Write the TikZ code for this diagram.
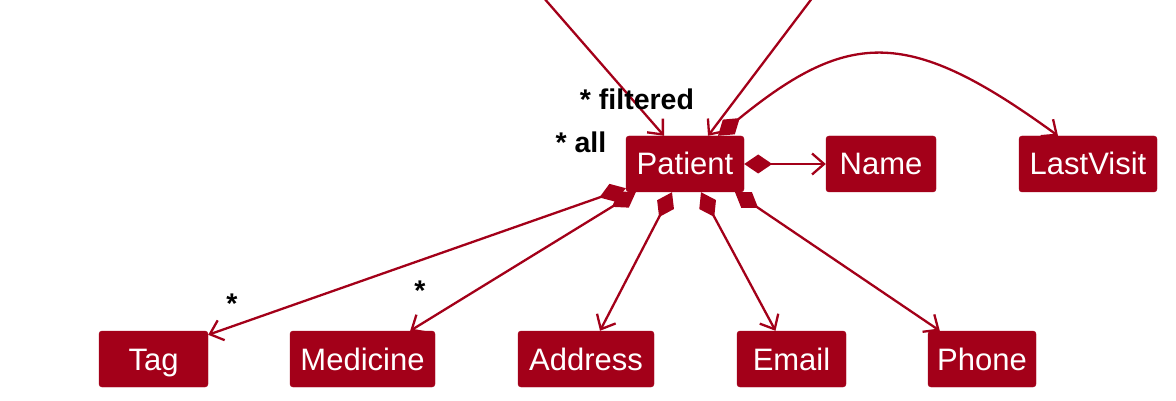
\documentclass[tikz,border=0pt]{standalone}
\usepackage{fontspec}
\setmainfont{Liberation Sans}
\usetikzlibrary{arrows.meta,calc}
\definecolor{puml}{RGB}{163,0,25}
\begin{document}
\begin{tikzpicture}[x=1pt,y=-1pt,
  cls/.style={draw=puml,fill=puml,text=white,rounded corners=3pt,inner sep=0pt,
    minimum height=56pt,text height=28pt,text depth=6pt,font=\fontsize{31}{36}\selectfont},
  lbl/.style={text=black,inner sep=0pt,font=\bfseries\fontsize{28.5}{32}\selectfont},
  assoc/.style={draw=puml,line width=2.3pt,-{Straight Barb[length=12pt,width=21pt,line width=2.3pt]}},
  comp/.style={draw=puml,line width=2.3pt,{Diamond[length=28pt,width=19pt,fill=puml]}-{Straight Barb[length=12pt,width=21pt,line width=2.3pt]}}
]
\useasboundingbox (0,0) rectangle (1176,401);
\begin{scope}
\clip (0,0) rectangle (1176,401);
\node[cls,minimum width=118pt] (patient) at (685,164) {Patient};
\node[cls,minimum width=110pt] (name) at (881,164) {Name};
\node[cls,minimum width=138pt] (last) at (1088,164) {LastVisit};
\node[cls,minimum width=109pt] (tag) at (153.5,359) {Tag};
\node[cls,minimum width=145pt] (med) at (362.5,359) {Medicine};
\node[cls,minimum width=136pt] (addr) at (586,359) {Address};
\node[cls,minimum width=109pt] (email) at (791.5,359) {Email};
\node[cls,minimum width=108pt] (phone) at (982,359) {Phone};

\coordinate (srcF) at (543,-3);
\coordinate (srcA) at (813,-3);
\draw[assoc] (srcF) -- ($(patient.north)+(-21,0)$);
\draw[assoc] (srcA) -- ($(patient.north)+(23,0)$);

\draw[comp] ($(patient.north)+(33,0)$) .. controls (850,28) and (910,28) .. ($(last.north)+(-30,0)$);
\draw[comp] (patient.east) -- (name.west);

\draw[comp] ($(patient.south west)+(0,-4)$) -- ($(tag.north east)+(0,4)$);
\draw[comp] ($(patient.south west)+(10,0)$) -- ($(med.north east)+(-25,0)$);
\draw[comp] ($(patient.south)+(-13,0)$) -- ($(addr.north)+(14,0)$);
\draw[comp] ($(patient.south)+(16,0)$) -- ($(email.north)+(-16,0)$);
\draw[comp] ($(patient.south)+(50,0)$) -- ($(phone.north west)+(12,0)$);

\node[lbl] (lf) at (637,99) {* filtered};
\node[lbl] (la) at (581,142) {* all};
\node[lbl] (lt) at (232,304) {*};
\node[lbl] (lm) at (420,291) {*};
\end{scope}
\end{tikzpicture}
\end{document}
